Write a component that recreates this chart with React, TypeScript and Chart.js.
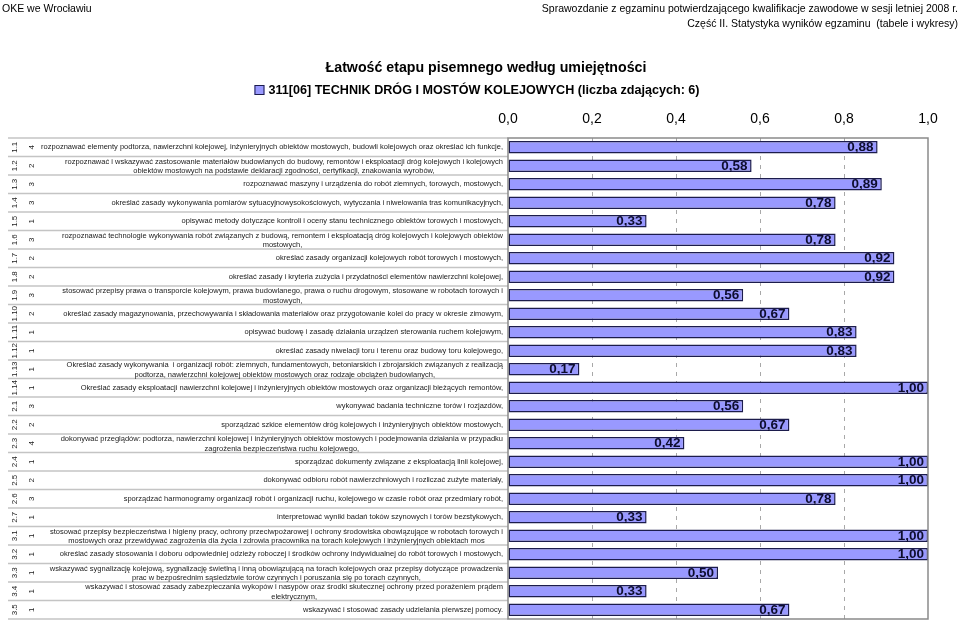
import React, { useEffect, useRef } from 'react';
import { Chart, registerables } from 'chart.js';

Chart.register(...registerables);

const FONT = '"Liberation Sans", Arial, Helvetica, sans-serif';

const headerLeft = 'OKE we Wrocławiu';
const headerRight = [
  'Sprawozdanie z egzaminu potwierdzającego kwalifikacje zawodowe w sesji letniej 2008 r.',
  'Część II. Statystyka wyników egzaminu  (tabele i wykresy)',
];
const chartTitle = 'Łatwość etapu pisemnego według umiejętności';
const seriesName = '311[06] TECHNIK DRÓG I MOSTÓW KOLEJOWYCH (liczba zdających: 6)';

const codes = [
  '1.1', '1.2', '1.3', '1.4', '1.5', '1.6', '1.7', '1.8', '1.9', '1.10', '1.11', '1.12', '1.13', '1.14',
  '2.1', '2.2', '2.3', '2.4', '2.5', '2.6', '2.7',
  '3.1', '3.2', '3.3', '3.4', '3.5',
];

const counts = [
  '4', '2', '3', '3', '1', '3', '2', '2', '3', '2', '1', '1', '1', '1',
  '3', '2', '4', '1', '2', '3', '1',
  '1', '1', '1', '1', '1',
];

const descriptions: string[][] = [
  ['rozpoznawać elementy podtorza, nawierzchni kolejowej, inżynieryjnych obiektów mostowych, budowli kolejowych oraz określać ich funkcje,'],
  ['rozpoznawać i wskazywać zastosowanie materiałów budowlanych do budowy, remontów i eksploatacji dróg kolejowych i kolejowych',
    'obiektów mostowych na podstawie deklaracji zgodności, certyfikacji, znakowania wyrobów,'],
  ['rozpoznawać maszyny i urządzenia do robót ziemnych, torowych, mostowych,'],
  ['określać zasady wykonywania pomiarów sytuacyjnowysokościowych, wytyczania i niwelowania tras komunikacyjnych,'],
  ['opisywać metody dotyczące kontroli i oceny stanu technicznego obiektów torowych i mostowych,'],
  ['rozpoznawać technologie wykonywania robót związanych z budową, remontem i eksploatacją dróg kolejowych i kolejowych obiektów',
    'mostowych,'],
  ['określać zasady organizacji kolejowych robót torowych i mostowych,'],
  ['określać zasady i kryteria zużycia i przydatności elementów nawierzchni kolejowej,'],
  ['stosować przepisy prawa o transporcie kolejowym, prawa budowlanego, prawa o ruchu drogowym, stosowane w robotach torowych i',
    'mostowych,'],
  ['określać zasady magazynowania, przechowywania i składowania materiałów oraz przygotowanie kolei do pracy w okresie zimowym,'],
  ['opisywać budowę i zasadę działania urządzeń sterowania ruchem kolejowym,'],
  ['określać zasady niwelacji toru i terenu oraz budowy toru kolejowego,'],
  ['Określać zasady wykonywania  i organizacji robót: ziemnych, fundamentowych, betoniarskich i zbrojarskich związanych z realizacją',
    'podtorza, nawierzchni kolejowej obiektów mostowych oraz rodzaje obciążeń budowlanych,'],
  ['Określać zasady eksploatacji nawierzchni kolejowej i inżynieryjnych obiektów mostowych oraz organizacji bieżących remontów,'],
  ['wykonywać badania techniczne torów i rozjazdów,'],
  ['sporządzać szkice elementów dróg kolejowych i inżynieryjnych obiektów mostowych,'],
  ['dokonywać przeglądów: podtorza, nawierzchni kolejowej i inżynieryjnych obiektów mostowych i podejmowania działania w przypadku',
    'zagrożenia bezpieczeństwa ruchu kolejowego,'],
  ['sporządzać dokumenty związane z eksploatacją linii kolejowej,'],
  ['dokonywać odbioru robót nawierzchniowych i rozliczać zużyte materiały,'],
  ['sporządzać harmonogramy organizacji robót i organizacji ruchu, kolejowego w czasie robót oraz przedmiary robót,'],
  ['interpretować wyniki badań toków szynowych i torów bezstykowych,'],
  ['stosować przepisy bezpieczeństwa i higieny pracy, ochrony przeciwpożarowej i ochrony środowiska obowiązujące w robotach torowych i',
    'mostowych oraz przewidywać zagrożenia dla życia i zdrowia pracownika na torach kolejowych i inżynieryjnych obiektach mos'],
  ['określać zasady stosowania i doboru odpowiedniej odzieży roboczej i środków ochrony indywidualnej do robót torowych i mostowych,'],
  ['wskazywać sygnalizację kolejową, sygnalizację świetlną i inną obowiązującą na torach kolejowych oraz przepisy dotyczące prowadzenia',
    'prac w bezpośrednim sąsiedztwie torów czynnych i poruszania się po torach czynnych,'],
  ['wskazywać i stosować zasady zabezpieczania wykopów i nasypów oraz środki skutecznej ochrony przed porażeniem prądem',
    'elektrycznym,'],
  ['wskazywać i stosować zasady udzielania pierwszej pomocy.'],
];

const values = [
  0.88, 0.58, 0.89, 0.78, 0.33, 0.78, 0.92, 0.92, 0.56, 0.67, 0.83, 0.83, 0.17, 1.0,
  0.56, 0.67, 0.42, 1.0, 1.0, 0.78, 0.33,
  1.0, 1.0, 0.5, 0.33, 0.67,
];

const xTickLabels = ['0,0', '0,2', '0,4', '0,6', '0,8', '1,0'];

const BAR_FILL = '#9999ff';
const BAR_EDGE = '#1c1c4c';

const fmt = (v: number) => v.toFixed(2).replace('.', ',');

const decorPlugin = {
  id: 'decor',
  beforeDatasetsDraw(chart: any) {
    const { ctx, chartArea } = chart;
    const yScale = chart.scales.y;
    const n = codes.length;
    const rowH = (chartArea.bottom - chartArea.top) / n;
    const tableLeft = 8;
    const textRight = chartArea.left - 5;
    ctx.save();
    ctx.strokeStyle = '#c4c4c4';
    ctx.lineWidth = 1.5;
    for (let i = 0; i <= n; i++) {
      const y = chartArea.top + i * rowH;
      ctx.beginPath();
      ctx.moveTo(tableLeft, y);
      ctx.lineTo(chartArea.left, y);
      ctx.stroke();
    }
    ctx.fillStyle = '#1a1a1a';
    for (let i = 0; i < n; i++) {
      const cy = yScale.getPixelForValue(i);
      ctx.font = `8px ${FONT}`;
      ctx.textAlign = 'center';
      ctx.textBaseline = 'middle';
      ctx.save();
      ctx.translate(15, cy);
      ctx.rotate(-Math.PI / 2);
      ctx.fillText(codes[i], 0, 0);
      ctx.restore();
      ctx.save();
      ctx.translate(32, cy);
      ctx.rotate(-Math.PI / 2);
      ctx.fillText(counts[i], 0, 0);
      ctx.restore();
      ctx.font = `7.5px ${FONT}`;
      const lines = descriptions[i];
      const widths = lines.map((l) => ctx.measureText(l).width);
      const maxW = Math.max(...widths);
      const cx = textRight - maxW / 2;
      const lh = 9.6;
      const y0 = cy - ((lines.length - 1) * lh) / 2 + (lines.length > 1 ? 0.5 : 0);
      lines.forEach((l, k) => {
        ctx.fillText(l, cx, y0 + k * lh);
      });
    }
    ctx.restore();
  },
  afterDatasetsDraw(chart: any) {
    const { ctx, chartArea } = chart;
    ctx.save();
    ctx.strokeStyle = '#8a8a8a';
    ctx.lineWidth = 1.5;
    ctx.strokeRect(chartArea.left, chartArea.top, chartArea.right - chartArea.left, chartArea.bottom - chartArea.top);
    const meta = chart.getDatasetMeta(0);
    ctx.font = `bold 13.5px ${FONT}`;
    ctx.fillStyle = '#0d0d2e';
    ctx.textAlign = 'right';
    ctx.textBaseline = 'middle';
    meta.data.forEach((bar: any, i: number) => {
      ctx.fillText(fmt(values[i]), bar.x - 4, bar.y + 0.5);
    });
    ctx.fillStyle = '#000';
    ctx.font = `10.5px ${FONT}`;
    ctx.textBaseline = 'alphabetic';
    ctx.textAlign = 'left';
    ctx.fillText(headerLeft, 2, 12);
    ctx.textAlign = 'right';
    ctx.fillText(headerRight[0], 958, 12);
    ctx.fillText(headerRight[1], 958, 27);
    ctx.textAlign = 'center';
    ctx.textBaseline = 'middle';
    ctx.font = `bold 14.2px ${FONT}`;
    ctx.fillText(chartTitle, 486, 68);
    ctx.font = `bold 12.6px ${FONT}`;
    const tw = ctx.measureText(seriesName).width;
    const box = 10;
    const gap = 4;
    const total = box + gap + tw;
    const lx = 477 - total / 2;
    ctx.fillStyle = BAR_FILL;
    ctx.fillRect(lx, 85, box, box);
    ctx.strokeStyle = BAR_EDGE;
    ctx.lineWidth = 1;
    ctx.strokeRect(lx + 0.5, 85.5, box - 1, box - 1);
    ctx.fillStyle = '#000';
    ctx.textAlign = 'left';
    ctx.fillText(seriesName, lx + box + gap, 90.5);
    ctx.restore();
  },
};

export default function App() {
  const canvasRef = useRef<HTMLCanvasElement | null>(null);

  useEffect(() => {
    const canvas = canvasRef.current;
    if (!canvas) return;
    const chart = new Chart(canvas, {
      type: 'bar',
      data: {
        labels: codes,
        datasets: [
          {
            label: seriesName,
            data: values,
            backgroundColor: BAR_FILL,
            borderColor: BAR_EDGE,
            borderWidth: 1.5,
            borderSkipped: false,
            barPercentage: 1,
            categoryPercentage: 0.68,
          },
        ],
      },
      plugins: [decorPlugin],
      options: {
        indexAxis: 'y',
        animation: false,
        responsive: false,
        maintainAspectRatio: false,
        devicePixelRatio: 1,
        layout: { padding: { left: 508, right: 32, top: 108, bottom: 3 } },
        plugins: {
          legend: { display: false },
          title: { display: false },
          tooltip: { enabled: false },
        },
        scales: {
          x: {
            position: 'top',
            min: 0,
            max: 1,
            ticks: {
              stepSize: 0.2,
              padding: 10,
              color: '#000',
              font: { family: FONT, size: 14 },
              callback: (_v: any, i: number) => xTickLabels[i],
            },
            grid: {
              drawTicks: false,
              lineWidth: 1,
              color: (c: any) => (c.index === 0 || c.index === xTickLabels.length - 1 ? 'rgba(0,0,0,0)' : '#a8a8a8'),
            },
            border: { display: false, dash: [4, 5] },
            afterFit: (s: any) => {
              s.height = 30;
            },
          },
          y: {
            type: 'category',
            display: false,
          },
        },
      },
    } as any);
    return () => chart.destroy();
  }, []);

  return (
    <div style={{ position: 'absolute', left: 0, top: 0, width: 960, height: 622, background: '#fff' }}>
      <canvas ref={canvasRef} width={960} height={622} style={{ display: 'block', width: 960, height: 622 }} />
    </div>
  );
}
